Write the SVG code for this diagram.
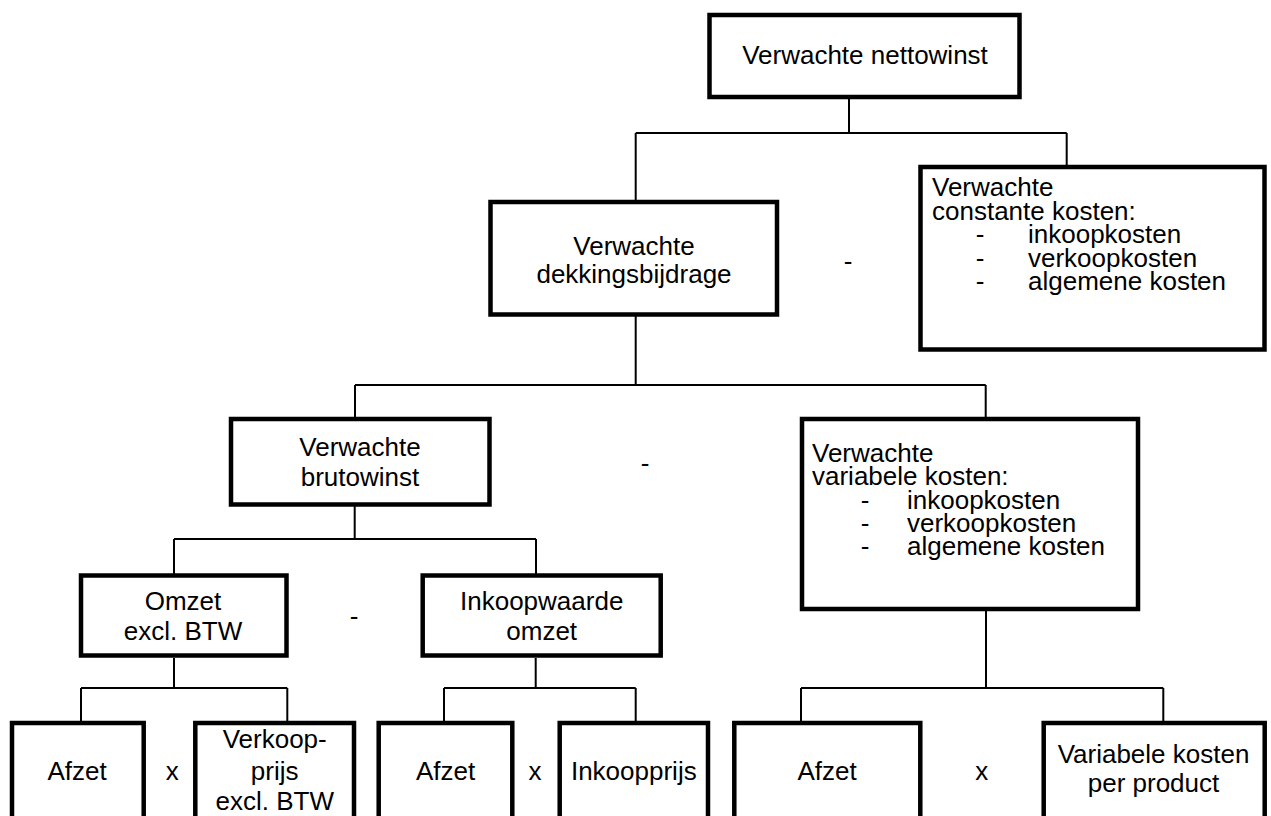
<svg xmlns="http://www.w3.org/2000/svg" width="1271" height="816" viewBox="0 0 1271 816">
<style>
.box{fill:#fff;stroke:#000;stroke-width:4.5}
.c{fill:none;stroke:#000;stroke-width:2}
text{font-family:"Liberation Sans",Arial,sans-serif;font-size:26px;fill:#000}
.m{text-anchor:middle}
</style>
<rect width="1271" height="816" fill="#fff"/>
<g id="connectors">
<path class="c" d="M849 99V133M635.7 133H1066.7M635.7 133V202M1066.7 133V167"/>
<path class="c" d="M635.7 316V385M355 385H985.7M355 385V419M985.7 385V419"/>
<path class="c" d="M354.7 506V539M174 539H536M174 539V575M536 539V575"/>
<path class="c" d="M174 658V688M81 688H287.3M81 688V723M287.3 688V723"/>
<path class="c" d="M535.7 658V688M444 688H635.7M444 688V723M635.7 688V723"/>
<path class="c" d="M986 611V688M801 688H1163.3M801 688V723M1163.3 688V723"/>
</g>
<g id="n-nettowinst"><rect class="box" x="709.5" y="15" width="310" height="82"/><text class="m" x="865" y="64">Verwachte nettowinst</text></g>
<g id="n-dekkingsbijdrage"><rect class="box" x="490.5" y="202" width="286.5" height="112.5"/><text class="m" x="634" y="255">Verwachte</text><text class="m" x="634" y="283">dekkingsbijdrage</text></g>
<g id="op-1"><text class="m" x="848" y="270">-</text></g>
<g id="n-constante"><rect class="box" x="920.5" y="167" width="344" height="182.5"/>
<text x="932" y="196">Verwachte</text><text x="932" y="219.5">constante kosten:</text>
<text class="m" x="980" y="243">-</text><text x="1028" y="243">inkoopkosten</text>
<text class="m" x="980" y="266.5">-</text><text x="1028" y="266.5">verkoopkosten</text>
<text class="m" x="980" y="290">-</text><text x="1028" y="290">algemene kosten</text></g>
<g id="n-brutowinst"><rect class="box" x="231" y="419" width="258.5" height="85.5"/><text class="m" x="360" y="456">Verwachte</text><text class="m" x="360" y="486">brutowinst</text></g>
<g id="op-2"><text class="m" x="645" y="472">-</text></g>
<g id="n-variabele"><rect class="box" x="802" y="419" width="336" height="190"/>
<text x="812" y="462">Verwachte</text><text x="812" y="485">variabele kosten:</text>
<text class="m" x="865" y="508.5">-</text><text x="907" y="508.5">inkoopkosten</text>
<text class="m" x="865" y="532">-</text><text x="907" y="532">verkoopkosten</text>
<text class="m" x="865" y="555">-</text><text x="907" y="555">algemene kosten</text></g>
<g id="n-omzet"><rect class="box" x="81" y="575.5" width="205.5" height="80"/><text class="m" x="183" y="610">Omzet</text><text class="m" x="183" y="640">excl. BTW</text></g>
<g id="op-3"><text class="m" x="354" y="625">-</text></g>
<g id="n-inkoopwaarde"><rect class="box" x="422.7" y="575.5" width="238" height="80"/><text class="m" x="541.7" y="610">Inkoopwaarde</text><text class="m" x="541.7" y="640">omzet</text></g>
<g id="n-afzet1"><rect class="box" x="12" y="723" width="131.7" height="110"/><text class="m" x="77" y="780">Afzet</text></g>
<g id="op-x1"><text class="m" x="172.3" y="780">x</text></g>
<g id="n-verkoopprijs"><rect class="box" x="195.3" y="723" width="158.7" height="110"/><text class="m" x="274.7" y="748">Verkoop-</text><text class="m" x="274.7" y="780">prijs</text><text class="m" x="274.7" y="810">excl. BTW</text></g>
<g id="n-afzet2"><rect class="box" x="378.7" y="723" width="133.6" height="110"/><text class="m" x="445.5" y="780">Afzet</text></g>
<g id="op-x2"><text class="m" x="535" y="780">x</text></g>
<g id="n-inkoopprijs"><rect class="box" x="559.7" y="723" width="148.3" height="110"/><text class="m" x="633.8" y="780">Inkoopprijs</text></g>
<g id="n-afzet3"><rect class="box" x="734.3" y="723" width="186" height="110"/><text class="m" x="827" y="780">Afzet</text></g>
<g id="op-x3"><text class="m" x="981.7" y="780">x</text></g>
<g id="n-varperproduct"><rect class="box" x="1043.7" y="723" width="221" height="110"/><text class="m" x="1153.5" y="763">Variabele kosten</text><text class="m" x="1153.5" y="792">per product</text></g>
</svg>
